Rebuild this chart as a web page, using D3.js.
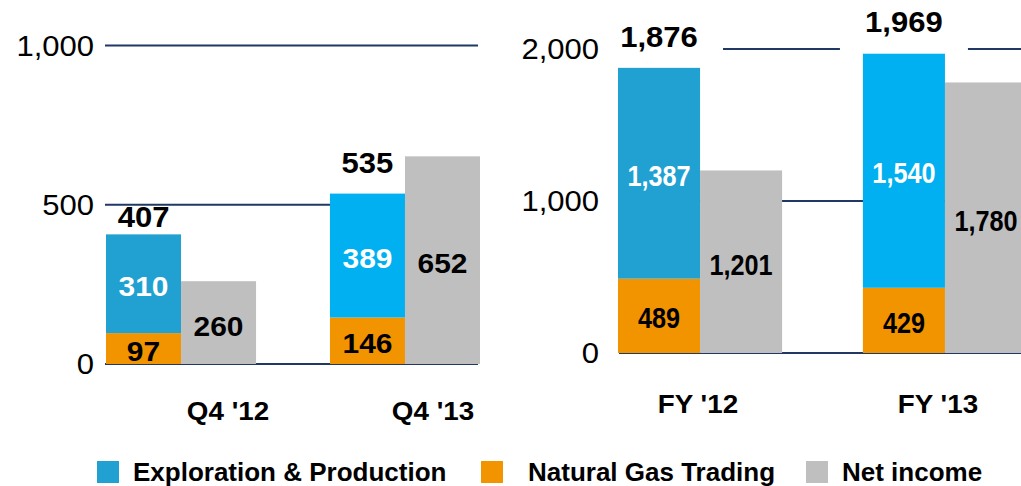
<!DOCTYPE html>
<html lang="en">
<head>
    <meta charset="UTF-8">
    <title>E&P, Gas Trading and Net income</title>
    <script src="https://d3js.org/d3.v7.min.js"></script>
    <style>
        body { margin: 0; background: #fff; }
        svg { display: block; font-family: "Liberation Sans", Arial, sans-serif; }
    </style>
</head>
<body>

    <svg width="1021" height="486"></svg>

    <script>
        // data
        const quarterCats = ["Q4 '12", "Q4 '13"];
        const quarterEP = [310, 389];
        const quarterGas = [97, 146];
        const quarterNet = [260, 652];
        const quarterTicks = [0, 500, 1000];

        const yearCats = ["FY '12", "FY '13"];
        const yearEP = [1387, 1540];
        const yearGas = [489, 429];
        const yearNet = [1201, 1780];
        const yearTicks = [0, 1000, 2000];

        const seriesNames = ["Exploration & Production", "Natural Gas Trading", "Net income"];

        // colours
        const blueOld = "#21a0d2";   // '12 bars
        const blueNew = "#00b0f0";   // '13 bars
        const orange = "#f29400";
        const grey = "#bfbfbf";
        const gridColor = "#1f3864";
        const stretch = 1.07;        // the source text is a little wide
        const narrow = 0.87;         // condensed labels in the yearly chart

        const svg = d3.select("svg");
        const fmt = d3.format(",");

        // draws a text with a horizontal stretch around its anchor
        function label(g, x, y, str, opts) {
            const sx = opts.sx || stretch;
            return g.append("text")
                .attr("transform", `translate(${x},${y}) scale(${sx},1)`)
                .attr("text-anchor", opts.anchor || "middle")
                .attr("font-size", opts.size)
                .attr("font-weight", opts.bold ? "bold" : "normal")
                .attr("fill", opts.fill || "#000")
                .text(str);
        }

        const panels = [
            {
                cats: quarterCats, ep: quarterEP, gas: quarterGas, net: quarterNet, ticks: quarterTicks,
                xRange: [106, 480], yRange: [364, 45.5], gridX: [105, 478], tickX: 94,
                catRange: [228, 433], catY: 420, innerSx: stretch, innerSize: 28, lift: [7, 21], boxes: false
            },
            {
                cats: yearCats, ep: yearEP, gas: yearGas, net: yearNet, ticks: yearTicks,
                xRange: [618, 1027], yRange: [353, 49], gridX: [619, 1030], tickX: 599,
                catRange: [698, 938], catY: 413, innerSx: narrow, innerSize: 29, lift: [21, 22], boxes: true
            }
        ];

        panels.forEach(p => {
            const g = svg.append("g");

            const x = d3.scaleBand()
                .domain(p.cats)
                .range(p.xRange)
                .paddingInner(0.33)
                .paddingOuter(0);

            const sub = d3.scaleBand()
                .domain(["stack", "net"])
                .range([0, x.bandwidth()]);

            const y = d3.scaleLinear()
                .domain([0, d3.max(p.ticks)])
                .range(p.yRange);

            const catX = d3.scalePoint()
                .domain(p.cats)
                .range(p.catRange);

            // gridlines (bars sit on top of them)
            g.selectAll(".grid")
                .data(p.ticks)
                .join("line")
                .attr("x1", p.gridX[0])
                .attr("x2", p.gridX[1])
                .attr("y1", d => y(d))
                .attr("y2", d => y(d))
                .attr("stroke", gridColor)
                .attr("stroke-width", 2);

            p.cats.forEach((c, i) => {
                const xs = x(c) + sub("stack");
                const xn = x(c) + sub("net");
                const w = sub.bandwidth();
                const total = p.ep[i] + p.gas[i];
                const blue = i === 0 ? blueOld : blueNew;
                const cx = xs + w / 2;
                const totalY = y(total) - p.lift[i];

                // white box behind the total label
                if (p.boxes) {
                    g.append("rect")
                        .attr("x", cx - 64)
                        .attr("y", totalY - 30)
                        .attr("width", 128)
                        .attr("height", y(total) - totalY + 30)
                        .attr("fill", "#fff");
                }

                // stacked bar: gas at the bottom, E&P above
                g.append("rect")
                    .attr("x", xs).attr("width", w)
                    .attr("y", y(p.gas[i]))
                    .attr("height", y(0) - y(p.gas[i]))
                    .attr("fill", orange);
                g.append("rect")
                    .attr("x", xs).attr("width", w)
                    .attr("y", y(total))
                    .attr("height", y(p.gas[i]) - y(total))
                    .attr("fill", blue);

                // net income bar
                g.append("rect")
                    .attr("x", xn).attr("width", w)
                    .attr("y", y(p.net[i]))
                    .attr("height", y(0) - y(p.net[i]))
                    .attr("fill", grey);

                // value labels
                label(g, cx, (y(0) + y(p.gas[i])) / 2 + 2, fmt(p.gas[i]),
                    { size: p.innerSize, bold: true, sx: p.innerSx }).attr("dy", "0.36em");
                label(g, cx, (y(p.gas[i]) + y(total)) / 2 + 2, fmt(p.ep[i]),
                    { size: p.innerSize, bold: true, fill: "#fff", sx: p.innerSx }).attr("dy", "0.36em");
                label(g, xn + w / 2, (y(0) + y(p.net[i])) / 2 + 3, fmt(p.net[i]),
                    { size: p.innerSize, bold: true, sx: p.innerSx }).attr("dy", "0.36em");
                label(g, cx, totalY, fmt(total), { size: 29, bold: true });

                // category
                label(g, catX(c), p.catY, c, { size: 26, bold: true });
            });

            // tick labels
            p.ticks.forEach(t => {
                label(g, p.tickX, y(t), fmt(t), { anchor: "end", size: 29 })
                    .attr("dy", "0.36em");
            });
        });

        // legend
        const legendColors = [blueOld, orange, grey];
        const legendX = [97, 481, 806];
        const legendTextX = [133, 528, 842];
        const legend = svg.append("g");
        seriesNames.forEach((name, i) => {
            legend.append("rect")
                .attr("x", legendX[i]).attr("y", 461)
                .attr("width", 22).attr("height", 22)
                .attr("fill", legendColors[i]);
            label(legend, legendTextX[i], 481, name, { anchor: "start", size: 25, bold: true, sx: 1.04 });
        });
    </script>

</body>
</html>
